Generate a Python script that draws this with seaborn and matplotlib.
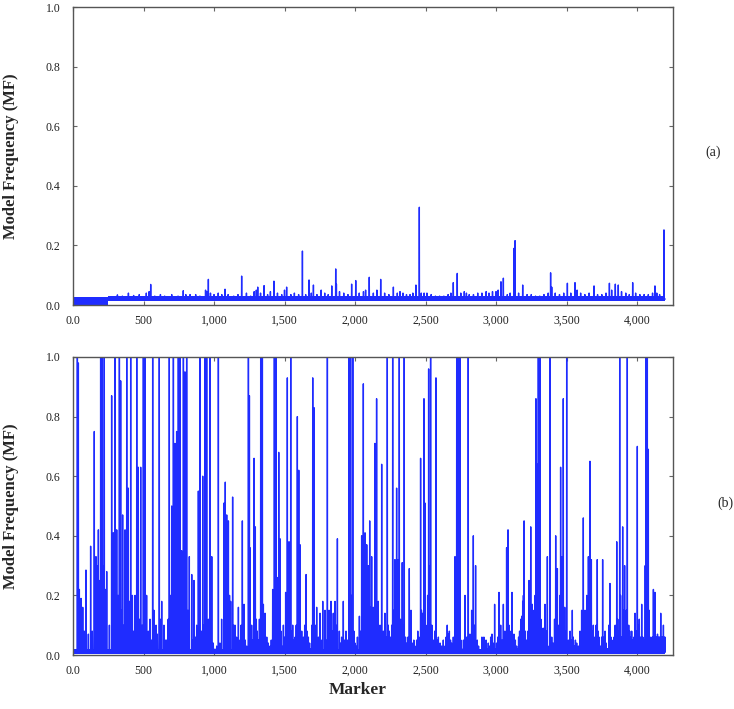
import numpy as np
import pandas as pd
import matplotlib
matplotlib.use("Agg")
import matplotlib.pyplot as plt
import seaborn as sns
from matplotlib.ticker import FuncFormatter, MultipleLocator

N_MARKERS = 4200
LINE_BLUE = "#1f2cff"

# ---- panel (a): spikes above the noise floor (marker index, MF) ----
a_marker = [
    315, 350, 393, 430, 470, 520, 540, 551, 580, 620,
    650, 700, 745, 782, 800, 830, 870, 900, 940, 950,
    960, 975, 1000, 1030, 1055, 1078, 1100, 1140, 1170, 1196,
    1230, 1260, 1285, 1300, 1310, 1330, 1355, 1380, 1400, 1425,
    1450, 1480, 1500, 1515, 1545, 1570, 1600, 1627, 1650, 1674,
    1690, 1705, 1730, 1760, 1785, 1810, 1835, 1863, 1868, 1890,
    1920, 1950, 1976, 2005, 2030, 2060, 2075, 2101, 2130, 2155,
    2182, 2210, 2240, 2272, 2300, 2319, 2340, 2365, 2390, 2410,
    2432, 2456, 2470, 2490, 2510, 2540, 2570, 2600, 2630, 2660,
    2680, 2697, 2725, 2750, 2775, 2790, 2810, 2840, 2870, 2900,
    2930, 2950, 2975, 3000, 3015, 3035, 3052, 3080, 3100, 3127,
    3135, 3160, 3189, 3220, 3250, 3280, 3310, 3340, 3370, 3387,
    3395, 3420, 3450, 3480, 3506, 3530, 3560, 3575, 3600, 3630,
    3660, 3695, 3720, 3750, 3780, 3804, 3820, 3846, 3867, 3890,
    3920, 3945, 3969, 3990, 4020, 4050, 4080, 4110, 4127, 4140,
    4160, 4191,
]
a_mf = [
    0.034, 0.03, 0.04, 0.032, 0.035, 0.04, 0.045, 0.069, 0.03, 0.035,
    0.03, 0.035, 0.03, 0.048, 0.035, 0.035, 0.035, 0.03, 0.05, 0.045,
    0.086, 0.04, 0.035, 0.04, 0.035, 0.053, 0.035, 0.03, 0.035, 0.097,
    0.04, 0.03, 0.045, 0.05, 0.06, 0.04, 0.065, 0.035, 0.045, 0.08,
    0.04, 0.035, 0.05, 0.06, 0.035, 0.04, 0.035, 0.181, 0.035, 0.084,
    0.04, 0.067, 0.035, 0.05, 0.04, 0.035, 0.064, 0.121, 0.07, 0.045,
    0.04, 0.035, 0.07, 0.082, 0.04, 0.045, 0.05, 0.093, 0.04, 0.05,
    0.086, 0.04, 0.035, 0.06, 0.04, 0.045, 0.04, 0.035, 0.035, 0.04,
    0.067, 0.328, 0.04, 0.04, 0.04, 0.035, 0.03, 0.03, 0.03, 0.035,
    0.04, 0.075, 0.106, 0.04, 0.045, 0.04, 0.035, 0.035, 0.04, 0.04,
    0.045, 0.04, 0.045, 0.045, 0.05, 0.078, 0.09, 0.035, 0.04, 0.19,
    0.216, 0.04, 0.067, 0.035, 0.035, 0.03, 0.03, 0.035, 0.04, 0.108,
    0.06, 0.04, 0.035, 0.04, 0.073, 0.04, 0.075, 0.05, 0.04, 0.035,
    0.04, 0.064, 0.035, 0.035, 0.04, 0.073, 0.05, 0.07, 0.067, 0.045,
    0.04, 0.035, 0.075, 0.04, 0.035, 0.035, 0.035, 0.04, 0.064, 0.04,
    0.035, 0.252,
]
a_base = 0.02
# dense noise floor, read as blocks: start marker, end marker, low, high
a_band_start = [1, 250]
a_band_end = [250, 4200]
a_band_low = [0.0, 0.012]
a_band_high = [0.027, 0.03]

# ---- panel (b) ----
b_marker = [
    31, 38, 45, 57, 69, 80, 92, 109, 125, 137,
    151, 163, 170, 180, 187, 196, 202, 208, 215, 222,
    230, 239, 258, 274, 286, 298, 310, 320, 329, 338,
    345, 352, 360, 369, 381, 392, 400, 409, 421, 430,
    440, 452, 463, 472, 480, 490, 499, 511, 522, 534,
    546, 556, 565, 574, 589, 598, 612, 620, 629, 645,
    655, 664, 675, 683, 692, 700, 705, 712, 718, 723,
    729, 735, 741, 747, 753, 759, 770, 777, 783, 789,
    794, 800, 806, 815, 825, 842, 850, 858, 868, 877,
    889, 901, 910, 920, 928, 936, 948, 960, 972, 984,
    995, 1007, 1019, 1031, 1042, 1054, 1071, 1080, 1090, 1102,
    1110, 1118, 1132, 1140, 1149, 1160, 1173, 1184, 1192, 1201,
    1213, 1222, 1232, 1244, 1251, 1255, 1267, 1275, 1284, 1293,
    1300, 1307, 1314, 1322, 1331, 1343, 1350, 1362, 1374, 1385,
    1397, 1406, 1416, 1422, 1428, 1434, 1440, 1449, 1459, 1468,
    1475, 1482, 1492, 1500, 1508, 1514, 1520, 1532, 1538, 1544,
    1550, 1558, 1566, 1575, 1583, 1591, 1596, 1601, 1610, 1622,
    1634, 1643, 1653, 1660, 1669, 1678, 1686, 1694, 1700, 1709,
    1718, 1728, 1740, 1752, 1760, 1771, 1787, 1795, 1804, 1816,
    1823, 1830, 1838, 1846, 1858, 1866, 1875, 1889, 1897, 1905,
    1917, 1926, 1936, 1946, 1957, 1963, 1969, 1976, 1984, 1992,
    2000, 2008, 2017, 2031, 2040, 2047, 2053, 2059, 2065, 2071,
    2077, 2083, 2089, 2095, 2104, 2111, 2118, 2124, 2130, 2141,
    2147, 2153, 2165, 2177, 2189, 2201, 2212, 2220, 2229, 2236,
    2243, 2253, 2260, 2267, 2275, 2283, 2290, 2295, 2301, 2307,
    2314, 2323, 2335, 2342, 2349, 2358, 2366, 2375, 2385, 2397,
    2409, 2417, 2425, 2437, 2445, 2453, 2465, 2471, 2477, 2489,
    2496, 2502, 2508, 2515, 2522, 2529, 2536, 2545, 2555, 2565,
    2574, 2582, 2591, 2603, 2614, 2626, 2638, 2646, 2654, 2662,
    2669, 2677, 2685, 2697, 2709, 2715, 2721, 2727, 2732, 2738,
    2744, 2751, 2758, 2769, 2780, 2792, 2803, 2815, 2827, 2839,
    2847, 2855, 2867, 2876, 2886, 2900, 2914, 2929, 2945, 2955,
    2962, 2971, 2980, 2990, 3004, 3012, 3021, 3033, 3043, 3052,
    3063, 3075, 3085, 3092, 3099, 3106, 3113, 3127, 3137, 3146,
    3160, 3167, 3175, 3182, 3189, 3194, 3199, 3208, 3217, 3226,
    3234, 3240, 3246, 3257, 3263, 3269, 3277, 3283, 3288, 3293,
    3300, 3306, 3312, 3318, 3324, 3335, 3347, 3356, 3364, 3376,
    3383, 3395, 3406, 3415, 3423, 3429, 3435, 3441, 3447, 3453,
    3458, 3465, 3471, 3477, 3487, 3494, 3501, 3513, 3525, 3533,
    3541, 3548, 3555, 3563, 3572, 3584, 3596, 3607, 3613, 3619,
    3625, 3631, 3637, 3643, 3649, 3655, 3661, 3666, 3671, 3676,
    3683, 3690, 3696, 3702, 3710, 3718, 3724, 3730, 3742, 3749,
    3756, 3765, 3773, 3781, 3789, 3800, 3808, 3815, 3822, 3830,
    3837, 3845, 3856, 3863, 3870, 3877, 3883, 3889, 3898, 3905,
    3912, 3918, 3924, 3931, 3941, 3948, 3955, 3962, 3969, 3978,
    3986, 3994, 4002, 4009, 4016, 4024, 4033, 4041, 4049, 4058,
    4064, 4068, 4073, 4077, 4080, 4086, 4092, 4098, 4104, 4110,
    4116, 4122, 4127, 4133, 4139, 4145, 4151, 4158, 4163, 4168,
    4175, 4181, 4187, 4193, 4198,
]
b_mf = [
    1.0, 0.98, 0.22, 0.19, 0.16, 0.08, 0.285, 0.07, 0.365, 0.08,
    0.75, 0.33, 0.30, 0.42, 0.25, 1.0, 0.33, 1.0, 0.30, 1.0,
    0.22, 0.28, 0.10, 0.87, 0.41, 1.0, 0.42, 0.20, 1.0, 0.92,
    0.15, 0.47, 0.10, 0.42, 1.0, 0.56, 0.18, 1.0, 0.20, 0.08,
    0.20, 1.0, 0.63, 0.12, 0.63, 0.10, 1.0, 1.0, 0.20, 0.08,
    0.12, 0.05, 1.0, 0.15, 0.10, 0.07, 1.0, 0.12, 0.18, 0.10,
    0.05, 0.05, 0.12, 1.0, 0.20, 0.50, 0.35, 1.0, 0.40, 0.71,
    0.45, 0.75, 0.35, 1.0, 0.30, 1.0, 0.35, 0.25, 1.0, 0.30,
    0.95, 0.30, 1.0, 0.15, 0.33, 0.27, 0.05, 0.25, 0.06, 0.10,
    0.55, 1.0, 0.08, 0.60, 0.10, 1.0, 1.0, 0.12, 1.0, 0.33,
    0.04, 0.02, 0.03, 1.0, 0.04, 0.12, 0.51, 0.58, 0.47, 0.45,
    0.20, 0.18, 0.53, 0.10, 0.10, 0.06, 0.16, 0.05, 0.10, 0.45,
    0.17, 0.05, 0.03, 1.0, 0.87, 0.36, 0.10, 0.05, 0.66, 0.43,
    0.12, 0.08, 0.05, 0.12, 1.0, 1.0, 0.17, 0.14, 0.06, 0.04,
    0.03, 0.05, 0.22, 0.10, 1.0, 0.30, 1.0, 0.26, 0.68, 0.39,
    0.08, 0.03, 0.10, 0.06, 0.21, 0.12, 0.93, 0.38, 0.10, 1.0,
    0.08, 0.10, 0.05, 0.06, 0.10, 0.80, 0.20, 0.62, 0.37, 0.08,
    0.06, 0.10, 0.27, 0.08, 0.06, 0.04, 0.02, 0.10, 0.93, 0.83,
    0.10, 0.16, 0.06, 0.14, 0.05, 0.18, 0.15, 0.05, 1.0, 0.15,
    0.06, 0.18, 0.08, 0.14, 0.18, 0.10, 0.39, 0.08, 0.04, 0.06,
    0.18, 0.05, 0.08, 0.05, 1.0, 0.15, 1.0, 0.20, 1.0, 0.08,
    0.04, 0.03, 0.06, 0.13, 0.08, 0.40, 0.20, 0.91, 0.25, 0.41,
    0.20, 0.37, 0.15, 0.30, 0.45, 0.16, 0.33, 0.12, 0.16, 0.71,
    0.20, 0.86, 0.18, 0.10, 0.64, 0.08, 0.14, 0.06, 1.0, 0.10,
    0.08, 0.06, 0.10, 1.0, 0.15, 0.32, 0.20, 0.56, 0.25, 0.32,
    1.0, 0.12, 0.31, 0.10, 1.0, 0.06, 0.04, 0.06, 0.29, 0.15,
    0.04, 0.05, 0.03, 0.05, 0.08, 0.06, 0.66, 0.15, 0.14, 0.86,
    0.51, 0.10, 0.04, 0.20, 0.96, 0.30, 1.0, 0.10, 0.05, 0.08,
    0.93, 0.05, 0.06, 0.04, 0.03, 0.05, 0.03, 0.06, 0.10, 0.07,
    0.08, 0.05, 0.04, 0.06, 0.33, 0.15, 1.0, 0.20, 1.0, 0.15,
    1.0, 0.05, 0.02, 0.05, 0.20, 0.06, 1.0, 0.07, 0.15, 0.40,
    0.10, 0.30, 0.05, 0.03, 0.01, 0.06, 0.06, 0.05, 0.04, 0.03,
    0.06, 0.07, 0.04, 0.17, 0.04, 0.06, 0.21, 0.10, 0.05, 0.17,
    0.08, 0.36, 0.42, 0.10, 0.05, 0.08, 0.21, 0.07, 0.05, 0.03,
    0.06, 0.08, 0.12, 0.13, 0.18, 0.20, 0.45, 0.08, 0.05, 0.08,
    0.25, 0.12, 0.43, 0.17, 0.10, 0.15, 0.20, 0.86, 0.30, 0.64,
    1.0, 0.40, 1.0, 0.12, 0.09, 0.09, 0.17, 0.08, 0.33, 0.03,
    1.0, 0.06, 0.04, 0.12, 0.40, 0.15, 0.29, 0.10, 0.07, 0.20,
    0.63, 0.33, 0.20, 0.86, 0.16, 0.08, 1.0, 0.05, 0.08, 0.05,
    0.15, 0.06, 0.03, 0.05, 0.04, 0.03, 0.08, 0.15, 0.10, 0.46,
    0.10, 0.15, 0.08, 0.20, 0.12, 0.33, 0.15, 0.65, 0.20, 0.32,
    0.08, 0.10, 0.06, 0.04, 0.10, 0.32, 0.08, 0.06, 0.03, 0.06,
    0.32, 0.06, 0.08, 0.04, 0.02, 0.10, 0.24, 0.06, 0.05, 0.04,
    0.06, 0.10, 0.38, 0.12, 0.08, 1.0, 0.20, 0.06, 0.43, 0.15,
    0.30, 0.10, 0.15, 1.0, 0.10, 0.08, 0.06, 0.08, 0.05, 0.06,
    0.14, 0.08, 0.70, 0.10, 0.12, 0.06, 0.17, 0.06, 0.05, 0.30,
    1.0, 0.70, 1.0, 0.69, 0.69, 0.15, 0.05, 0.06, 0.05, 0.06,
    0.22, 0.06, 0.21, 0.06, 0.06, 0.07, 0.06, 0.06, 0.06, 0.14,
    0.06, 0.06, 0.10, 0.06, 0.06,
]
b_base = 0.01
b_band_start = [1, 2900, 4090]
b_band_end = [2900, 4090, 4200]
b_band_low = [0.004, 0.004, 0.004]
b_band_high = [0.02, 0.025, 0.055]


def build_series(markers, values, base):
    mf = np.full(N_MARKERS, base)
    mf[np.array(markers) - 1] = values
    return pd.DataFrame({"Marker": np.arange(1, N_MARKERS + 1), "MF": mf})


def x_fmt(v, _):
    return "0.0" if v == 0 else f"{int(v):,}"


sns.set_style("ticks")
plt.rcParams["font.family"] = ["Liberation Serif", "DejaVu Serif"]

fig = plt.figure(figsize=(7.34, 7.09), dpi=100)
ax_a = fig.add_axes([73 / 734, 1 - 305 / 709, 600 / 734, 298 / 709])
ax_b = fig.add_axes([73 / 734, 1 - 655 / 709, 600 / 734, 298 / 709])

panels = [
    (ax_a, a_marker, a_mf, a_base, a_band_start, a_band_end, a_band_low, a_band_high),
    (ax_b, b_marker, b_mf, b_base, b_band_start, b_band_end, b_band_low, b_band_high),
]

for ax, mk, mf, base, bs, be, bl, bh in panels:
    for s, e, lo, hi in zip(bs, be, bl, bh):
        ax.fill_between([s, e], lo, hi, color=LINE_BLUE, linewidth=0)
    df = build_series(mk, mf, base)
    sns.lineplot(data=df, x="Marker", y="MF", ax=ax, color=LINE_BLUE,
                 linewidth=1.0, estimator=None, legend=False)
    ax.set_xlim(0, 4255)
    ax.set_ylim(0, 1.0)
    ax.xaxis.set_major_locator(MultipleLocator(500))
    ax.yaxis.set_major_locator(MultipleLocator(0.2))
    ax.xaxis.set_major_formatter(FuncFormatter(x_fmt))
    ax.yaxis.set_major_formatter(FuncFormatter(lambda v, _: f"{v:.1f}"))
    ax.tick_params(direction="in", top=True, right=True, length=3,
                   width=0.8, color="#666666", labelsize=8.5, labelcolor="#222222")
    ax.tick_params(axis="y", pad=9)
    ax.tick_params(axis="x", pad=7)
    for sp in ax.spines.values():
        sp.set_visible(True)
        sp.set_color("#555555")
        sp.set_linewidth(1.0)
    ax.set_xlabel("")
    ax.set_ylabel("Model Frequency (MF)", fontsize=12, fontweight="bold")
    ax.yaxis.set_label_coords(-0.09, 0.5)

fig.text(358 / 734, 1 - 690 / 709, "Marker", ha="center", va="center",
         fontsize=12.5, fontweight="bold")
fig.text(713 / 734, 1 - 152 / 709, "(a)", ha="center", va="center", fontsize=10)
fig.text(725 / 734, 1 - 503 / 709, "(b)", ha="center", va="center", fontsize=10)

fig.savefig("out.png", dpi=100)
plt.close(fig)
